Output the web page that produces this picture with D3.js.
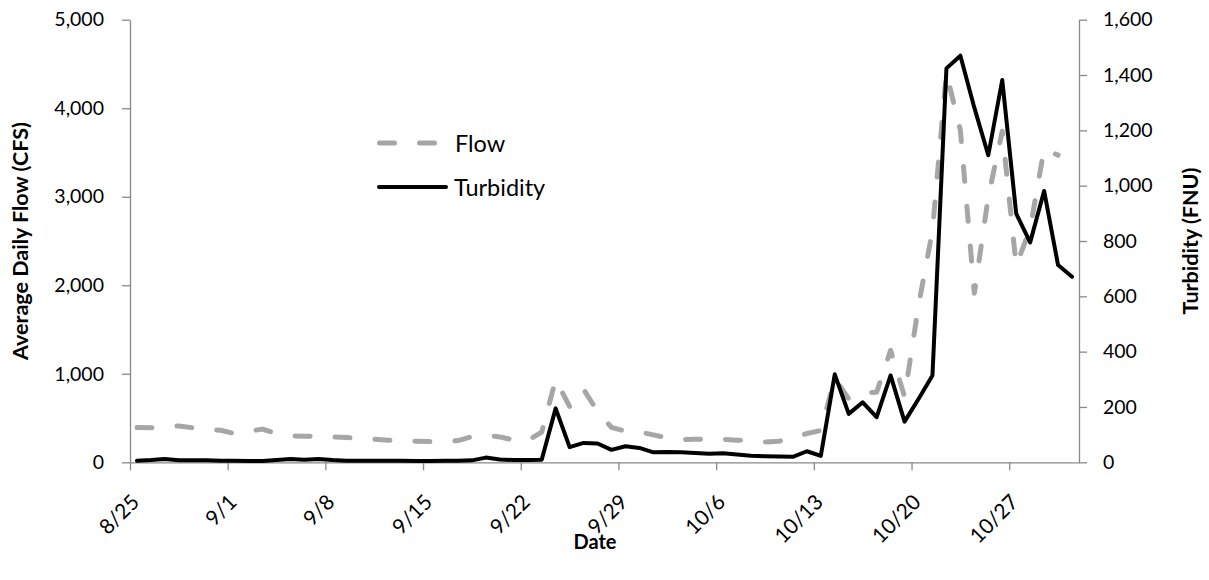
<!DOCTYPE html>
<html>
<head>
<meta charset="utf-8">
<script src="https://cdn.jsdelivr.net/npm/d3@7"></script>
<style>
  body { margin: 0; background: #fff; }
  svg text { font-family: Lato, 'Open Sans', sans-serif; fill: #000; }
</style>
</head>
<body>
<div id="vis"></div>
<script>
// daily dates, 8/25 to 10/31
var dates = [
  '8/25', '8/26', '8/27', '8/28', '8/29', '8/30', '8/31',
  '9/1', '9/2', '9/3', '9/4', '9/5', '9/6', '9/7',
  '9/8', '9/9', '9/10', '9/11', '9/12', '9/13', '9/14',
  '9/15', '9/16', '9/17', '9/18', '9/19', '9/20', '9/21',
  '9/22', '9/23', '9/24', '9/25', '9/26', '9/27', '9/28',
  '9/29', '9/30', '10/1', '10/2', '10/3', '10/4', '10/5',
  '10/6', '10/7', '10/8', '10/9', '10/10', '10/11', '10/12',
  '10/13', '10/14', '10/15', '10/16', '10/17', '10/18', '10/19',
  '10/20', '10/21', '10/22', '10/23', '10/24', '10/25', '10/26',
  '10/27', '10/28', '10/29', '10/30', '10/31'
];

// average daily flow (CFS), ends 10/30
var flow = [
  392, 390, 400, 411, 390, 375, 362,
  324, 350, 375, 325, 300, 294, 294,
  287, 279, 270, 260, 249, 243, 238,
  234, 234, 245, 290, 303, 287, 250,
  245, 340, 935, 630, 825, 575, 395,
  350, 343, 310, 275, 256, 260, 264,
  260, 250, 245, 230, 238, 279, 325,
  360, 950, 716, 784, 792, 1265, 740,
  1770, 2620, 4400, 3750, 1910, 3000, 3740,
  2220, 2640, 3540, 3470
];

// turbidity (FNU)
var turbidity = [
  6, 8, 12, 7, 7, 7, 6,
  6, 5, 5, 8, 12, 9, 12,
  8, 6, 6, 6, 6, 6, 5,
  5, 6, 6, 7, 17, 10, 8,
  8, 9, 195, 55, 70, 68, 45,
  58, 52, 36, 37, 36, 34, 31,
  33, 28, 24, 22, 21, 20, 40,
  23, 318, 175, 217, 163, 314, 147,
  229, 314, 1424, 1470, 1282, 1110, 1382,
  899, 795, 981, 713, 671
];

var xTickLabels = ['8/25', '9/1', '9/8', '9/15', '9/22', '9/29', '10/6', '10/13', '10/20', '10/27'];
var flowTicks = [0, 1000, 2000, 3000, 4000, 5000];
var turbidityTicks = [0, 200, 400, 600, 800, 1000, 1200, 1400, 1600];

var width = 1209;
var height = 580;
var margin = { top: 19.7, left: 130, bottom: 117.7, right: 130 };

var parseDay = d3.utcParse('%m/%d/%Y');
function toDate(s) { return parseDay(s + '/2019'); }

var svg = d3.select('#vis').append('svg').attr('width', width).attr('height', height);

var x = d3
  .scaleUtc()
  .domain([toDate('8/25'), toDate('11/1')])
  .range([margin.left, width - margin.right]);

var yFlow = d3
  .scaleLinear()
  .domain([0, 5000])
  .range([height - margin.bottom, margin.top]);

var yTurb = d3
  .scaleLinear()
  .domain([0, 1600])
  .range([height - margin.bottom, margin.top]);

// points sit in the middle of each day
function xMid(s) {
  return x(d3.utcHour.offset(toDate(s), 12));
}

var axisColor = '#898989';

function styleAxis(g) {
  g.select('.domain').attr('stroke', axisColor).attr('stroke-width', 1.3);
  g.selectAll('.tick line').attr('stroke', axisColor).attr('stroke-width', 1.3);
  g.selectAll('.tick text').attr('font-size', 19.5).attr('fill', '#000');
}

// left axis
svg
  .append('g')
  .attr('transform', 'translate(' + margin.left + ',0)')
  .call(d3.axisLeft(yFlow).tickValues(flowTicks).tickFormat(d3.format(',')).tickSize(8).tickSizeOuter(0).tickPadding(18))
  .call(styleAxis);

// right axis
svg
  .append('g')
  .attr('transform', 'translate(' + (width - margin.right) + ',0)')
  .call(d3.axisRight(yTurb).tickValues(turbidityTicks).tickFormat(d3.format(',')).tickSize(8).tickSizeOuter(0).tickPadding(16))
  .call(styleAxis);

// bottom axis
var xAxis = svg
  .append('g')
  .attr('transform', 'translate(0,' + (height - margin.bottom) + ')')
  .call(
    d3
      .axisBottom(x)
      .tickValues(xTickLabels.map(toDate))
      .tickFormat(function (d, i) { return xTickLabels[i]; })
      .tickSize(8)
      .tickSizeOuter(0)
  )
  .call(styleAxis);

xAxis
  .selectAll('.tick text')
  .attr('font-size', 21)
  .attr('text-anchor', 'end')
  .attr('dominant-baseline', 'central')
  .attr('y', 0)
  .attr('dy', 0)
  .attr('transform', 'translate(4,35) rotate(-45)');

// series
var flowLine = d3
  .line()
  .x(function (d, i) { return xMid(dates[i]); })
  .y(function (d) { return yFlow(d); });

var turbLine = d3
  .line()
  .x(function (d, i) { return xMid(dates[i]); })
  .y(function (d) { return yTurb(d); });

svg
  .append('path')
  .datum(flow)
  .attr('d', flowLine)
  .attr('fill', 'none')
  .attr('stroke', '#a6a6a6')
  .attr('stroke-width', 5)
  .attr('stroke-dasharray', '15,25')
  .attr('stroke-linecap', 'round')
  .attr('stroke-linejoin', 'round');

svg
  .append('path')
  .datum(turbidity)
  .attr('d', turbLine)
  .attr('fill', 'none')
  .attr('stroke', '#000')
  .attr('stroke-width', 4)
  .attr('stroke-linecap', 'round')
  .attr('stroke-linejoin', 'round');

// legend
var legend = svg.append('g');

legend
  .append('line')
  .attr('x1', 379.5)
  .attr('x2', 436)
  .attr('y1', 143)
  .attr('y2', 143)
  .attr('stroke', '#a6a6a6')
  .attr('stroke-width', 5)
  .attr('stroke-dasharray', '15,25')
  .attr('stroke-linecap', 'round');

legend
  .append('text')
  .attr('x', 455)
  .attr('y', 143)
  .attr('dominant-baseline', 'central')
  .attr('font-size', 23.5)
  .text('Flow');

legend
  .append('line')
  .attr('x1', 379)
  .attr('x2', 446)
  .attr('y1', 187)
  .attr('y2', 187)
  .attr('stroke', '#000')
  .attr('stroke-width', 4)
  .attr('stroke-linecap', 'round');

legend
  .append('text')
  .attr('x', 454)
  .attr('y', 187)
  .attr('dominant-baseline', 'central')
  .attr('font-size', 23.5)
  .text('Turbidity');

// axis titles
var midY = (margin.top + height - margin.bottom) / 2;

svg
  .append('text')
  .attr('transform', 'translate(20,' + midY + ') rotate(-90)')
  .attr('text-anchor', 'middle')
  .attr('dominant-baseline', 'central')
  .attr('font-size', 21.5)
  .attr('font-weight', 'bold')
  .text('Average Daily Flow (CFS)');

svg
  .append('text')
  .attr('transform', 'translate(1190,' + midY + ') rotate(-90)')
  .attr('text-anchor', 'middle')
  .attr('dominant-baseline', 'central')
  .attr('font-size', 21.5)
  .attr('font-weight', 'bold')
  .text('Turbidity (FNU)');

svg
  .append('text')
  .attr('x', 595)
  .attr('y', 549)
  .attr('text-anchor', 'middle')
  .attr('font-size', 20)
  .attr('font-weight', 'bold')
  .text('Date');
</script>
</body>
</html>
